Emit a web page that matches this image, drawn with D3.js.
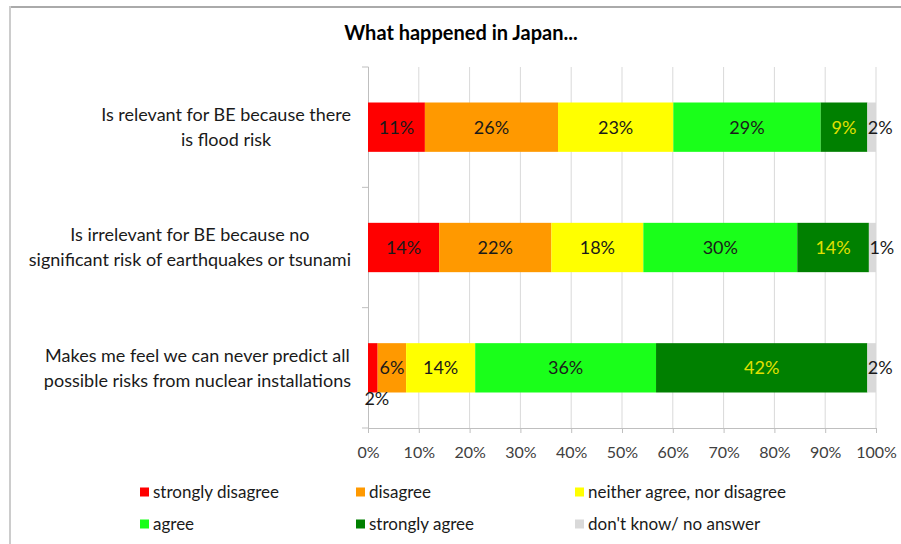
<!DOCTYPE html>
<html><head><meta charset="utf-8">
<script src="https://cdn.jsdelivr.net/npm/d3@7"></script>
<style>
body{margin:0;background:#fff;}
svg{display:block;font-family:Lato,"Open Sans",sans-serif;}
</style></head>
<body><svg id="c" width="901" height="544"></svg>
<script>
const title = "What happened in Japan...";
const categories = [
  ["Is relevant for BE because there", "is flood risk"],
  ["Is irrelevant for BE because no", "significant risk of earthquakes or tsunami"],
  ["Makes me feel we can never predict all", "possible risks from nuclear installations"]
];
const seriesNames = ["strongly disagree","disagree","neither agree, nor disagree","agree","strongly agree","don't know/ no answer"];
const seriesColors = ["#ff0000","#ff9900","#ffff00","#1aff1a","#008000","#d9d9d9"];
const labelColors = ["#1a1a1a","#1a1a1a","#1a1a1a","#1a1a1a","#e0e000","#1a1a1a"];
const values = [
  [11.2, 26.2, 22.7, 29.0, 9.2, 1.7],
  [14.0, 22.1, 18.1, 30.3, 14.1, 1.4],
  [1.9, 5.6, 13.6, 35.6, 41.6, 1.7]
];
const xTicks = [0,10,20,30,40,50,60,70,80,90,100];

const svg = d3.select("#c");
// frame
svg.append("line").attr("x1",9).attr("x2",901).attr("y1",7).attr("y2",7).attr("stroke","#aaaaaa").attr("stroke-width",2);
svg.append("line").attr("x1",10).attr("x2",10).attr("y1",6).attr("y2",544).attr("stroke","#cccccc").attr("stroke-width",2);

svg.append("text").attr("x",461).attr("y",40).attr("text-anchor","middle")
  .attr("font-weight","bold").attr("font-size",20).attr("fill","#000").text(title);

const x = d3.scaleLinear().domain([0,100]).range([368,876]);
const y = d3.scaleBand().domain(d3.range(categories.length)).range([67,428]).paddingInner(0.59).paddingOuter(0.295);

// gridlines
svg.append("g").selectAll("line").data(xTicks.slice(1)).join("line")
  .attr("x1",d=>x(d)).attr("x2",d=>x(d)).attr("y1",67).attr("y2",428)
  .attr("stroke","#d9d9d9").attr("stroke-width",1);

// x axis
const xa = svg.append("g").attr("transform","translate(0,428)")
  .call(d3.axisBottom(x).tickValues(xTicks).tickFormat(d=>d+"%").tickSize(5).tickPadding(14));
xa.select(".domain").attr("stroke","#bfbfbf");
xa.selectAll(".tick line").attr("stroke","#bfbfbf");
xa.selectAll("text").attr("font-family","Lato,'Open Sans',sans-serif").attr("font-size",16).attr("fill","#404040");

// y axis line & ticks at band boundaries
svg.append("line").attr("x1",368.5).attr("x2",368.5).attr("y1",67).attr("y2",428).attr("stroke","#bfbfbf");
svg.append("g").selectAll("line").data(d3.range(categories.length+1)).join("line")
  .attr("x1",362).attr("x2",368.5).attr("y1",d=>67+d*(361/categories.length)).attr("y2",d=>67+d*(361/categories.length))
  .attr("stroke","#bfbfbf");

// bars
const stacked = values.map(row=>{let c=0;return row.map((v,i)=>{const s={x0:c,x1:c+v,v:v,i:i};c+=v;return s;});});
const rows = svg.append("g").selectAll("g").data(stacked).join("g")
  .attr("transform",(d,i)=>`translate(0,${y(i)})`);
rows.selectAll("rect").data(d=>d).join("rect")
  .attr("x",d=>x(d.x0)).attr("width",d=>x(d.x1)-x(d.x0)).attr("y",0).attr("height",y.bandwidth())
  .attr("fill",d=>seriesColors[d.i]);
rows.selectAll("text").data(d=>d).join("text")
  .attr("x",d=>{
    if(d.i===5) return x(d.x0)+0.5;
    if(x(d.x1)-x(d.x0)<15) return x((d.x0+d.x1)/2)+4;
    return x((d.x0+d.x1)/2);})
  .attr("y",d=>(x(d.x1)-x(d.x0)<15 && d.i!==5)? y.bandwidth()+6 : y.bandwidth()/2)
  .attr("dy","0.36em")
  .attr("text-anchor",d=>d.i===5?"start":"middle")
  .attr("font-size",18).attr("fill",d=>labelColors[d.i])
  .text(d=>Math.round(d.v)+"%");

// category labels
categories.forEach((lines,i)=>{
  const cy = y(i)+y.bandwidth()/2;
  const g = svg.append("g");
  const ts = g.selectAll("text").data(lines).join("text")
    .attr("y",(d,j)=>cy+(j-0.5)*25).attr("dy","0.36em")
    .attr("font-size",18).attr("fill","#1a1a1a").attr("text-anchor","middle").text(d=>d);
  let w=0; ts.each(function(){w=Math.max(w,this.getComputedTextLength());});
  ts.attr("x",351-w/2);
});

// legend
const lx = [140,356,575];
const legend = svg.append("g").selectAll("g").data(seriesNames).join("g")
  .attr("transform",(d,i)=>`translate(${lx[i%3]},${i<3?492:524})`);
legend.append("rect").attr("x",0).attr("y",-4.5).attr("width",9).attr("height",9).attr("fill",(d,i)=>seriesColors[i]);
legend.append("text").attr("x",13).attr("dy","0.36em").attr("font-size",17).attr("fill","#1a1a1a").text(d=>d);
</script></body></html>
